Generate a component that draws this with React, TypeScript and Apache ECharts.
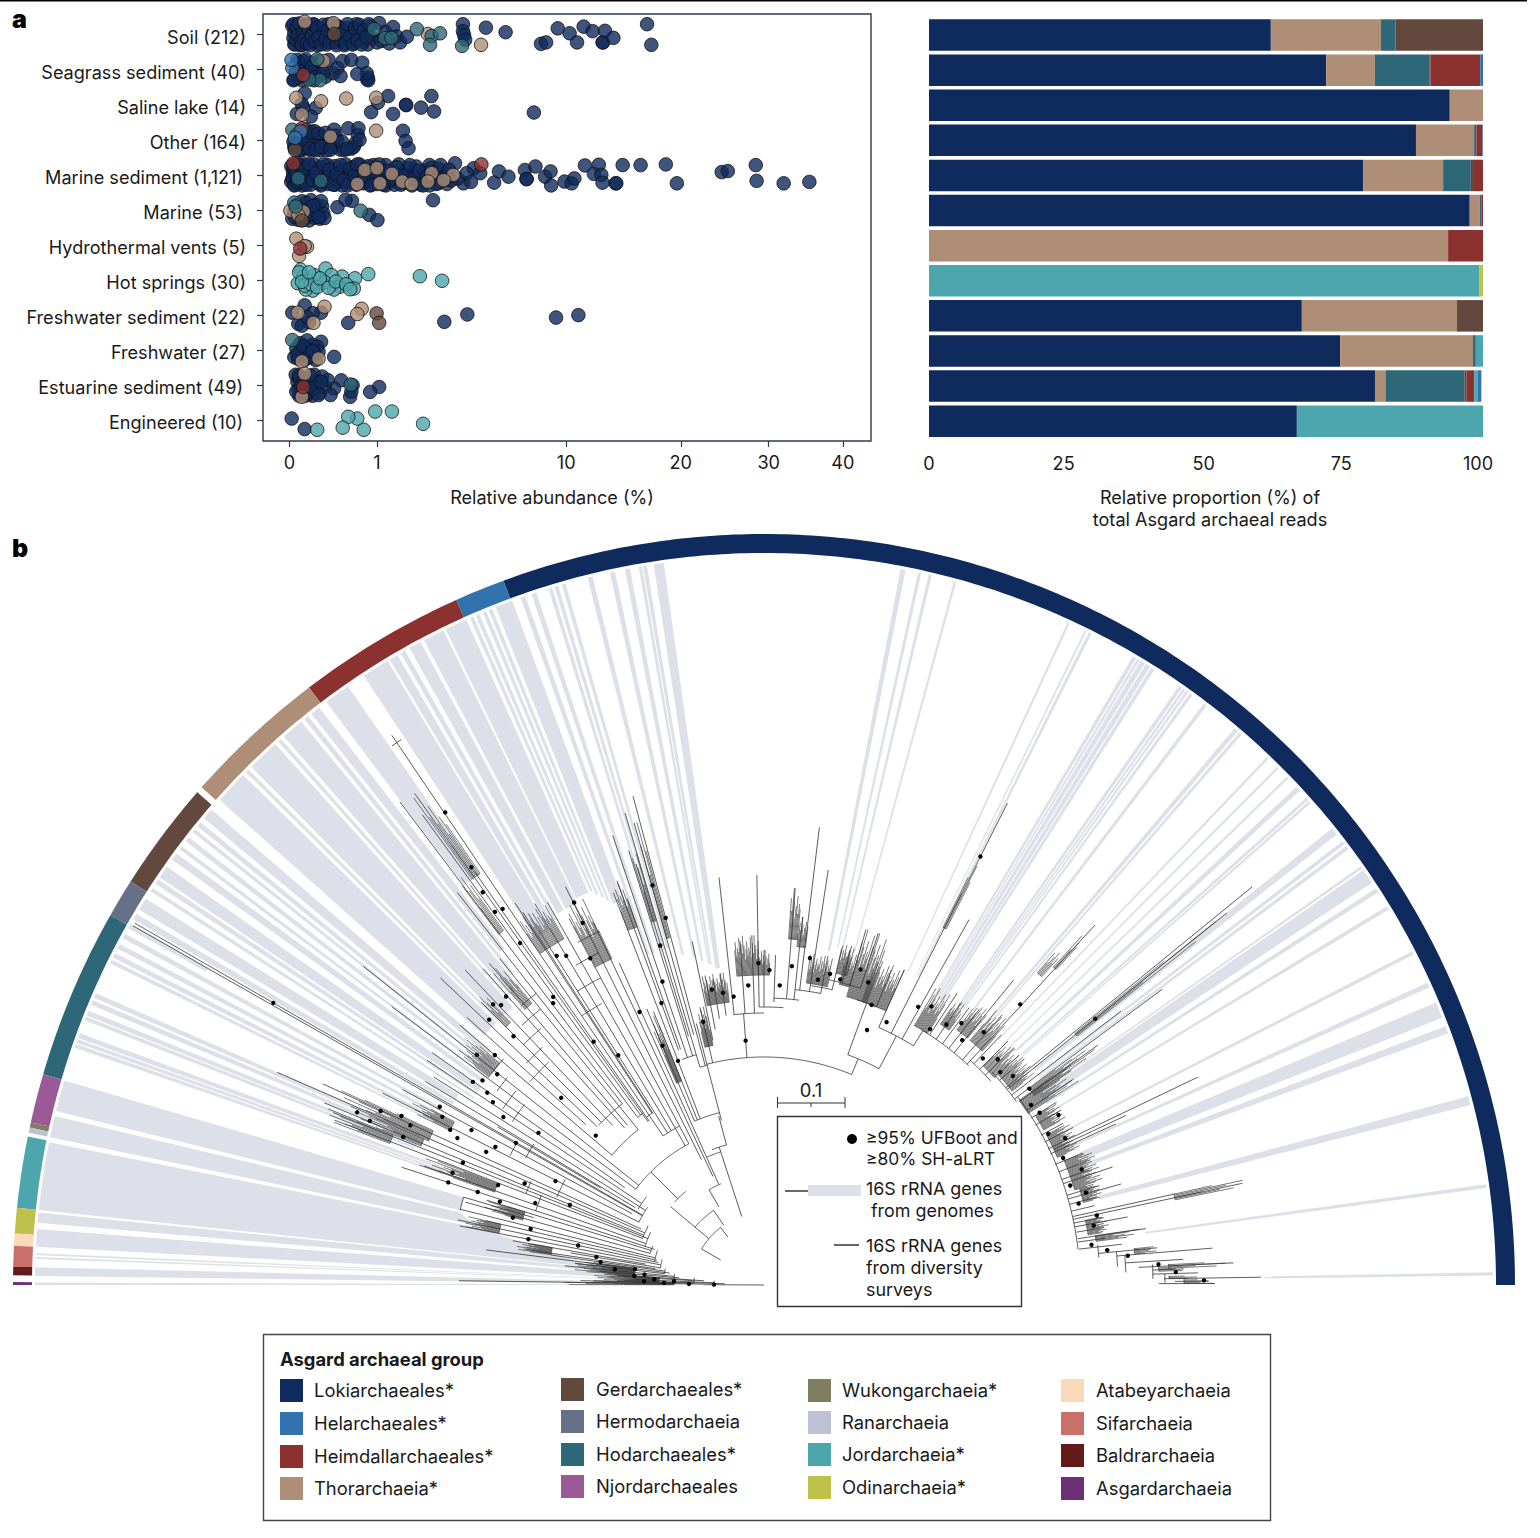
import React, { useEffect, useRef } from "react";
import * as echarts from "echarts";

const FONT = "Inter, Roboto, sans-serif";
const INK = "#1a1a1a";
const FRAME = "#2b3a55";
const AXIS_SIZE = 18.1;
const LEGEND_SIZE = 18.4;
const KEY_SIZE = 17.9;

const C: Record<string, string> = {
  Loki: "#0f2a5c", LokiOver: "#0f2a5c", Hel: "#3272ae", Heim: "#8b3230", Thor: "#ae8e77", Gerd: "#63483d", Herm: "#667189",
  Hod: "#2e6878", Njord: "#9b5997", Wukong: "#7f7f5f", Ran: "#bcc2d2", Jord: "#4da6ad", Odin: "#bfc248",
  Atabey: "#fadabb", Sif: "#cb6f6b", Bald: "#651a1a", Asgard: "#6d2f75",
};

const rowLabels = ["Soil (212)", "Seagrass sediment (40)", "Saline lake (14)", "Other (164)", "Marine sediment (1,121)", "Marine (53)", "Hydrothermal vents (5)", "Hot springs (30)", "Freshwater sediment (22)", "Freshwater (27)", "Estuarine sediment (49)", "Engineered (10)"];
const insetRows = [4, 5, 10, 11];
const abundanceTicks = [0, 1, 10, 20, 30, 40];
const proportionTicks = [0, 25, 50, 75, 100];

// Panel a, left: [relative abundance %, vertical jitter in rows]
const soilLoki = [[.001,-.25],[.002,.1],[.003,-.05],[.004,.27],[.006,-.3],[.008,.18],[.01,-.12],[.012,.05],[.015,.3],[.02,-.22],[.025,.12],[.03,-.02],[.035,.26],[.04,-.3],[.05,.08],[.06,-.15],[.07,.22],[.08,-.28],[.09,.02],[.1,.3],[.12,-.18],[.14,.15],[.16,-.05],[.18,.28],[.2,-.3],[.22,.05],[.25,-.12],[.28,.22],[.3,-.25],[.33,.1],[.36,-.02],[.39,.3],[.42,-.2],[.46,.15],[.5,-.08],[.54,.25],[.58,-.3],[.62,.05],[.66,-.15],[.7,.2],[.75,-.05],[.8,.28],[.85,-.25],[.9,.1],[1,.22],[1.05,-.33],[1.1,.18],[1.2,-.08],[1.3,.25],[1.4,-.22],[1.5,.05],[1.6,.22],[1.8,.06],[3.93,-.3],[3.93,-.1],[3.98,.01],[4.03,.15],[5.04,-.2],[6.1,-.07],[8.26,.26],[8.6,.22],[9.4,-.18],[10.25,-.04],[10.8,.22],[11.3,-.23],[12,-.1],[12.8,.22],[12.85,.22],[13,-.11],[13.7,.09],[16.7,-.3],[17.1,.29]];
const soilThor = [[.03,-.37],[.25,-.33],[2.5,-.02],[4.79,.29]];
const soilHod = [[.93,-.16],[1.19,.1],[1.36,.09],[2.12,-.16],[2.64,.04],[2.96,-.04],[2.58,.29],[3.89,.32]];
const soilGerd = [[.26,-.02]];
const soilOver = [[.002,-.3],[.003,.28],[.005,.15],[.007,-.2],[.01,.02],[.013,-.32],[.017,.2],[.02,.3],[.024,-.08],[.03,.12],[.035,-.25],[.04,.25],[.05,-.12],[.055,.3],[.065,.03],[.075,-.3],[.085,.18],[.1,-.2],[.11,.08],[.13,.28],[.15,-.28],[.17,.12],[.19,-.12],[.21,.22],[.24,-.3],[.26,.02],[.29,.3],[.32,-.2],[.35,.15],[.38,-.1],[.41,.25],[.44,-.3],[.48,.05],[.52,.28],[.56,-.18],[.6,.15],[.64,-.28],[.68,.28],[.72,-.12],[.77,.08],[.82,-.3]];

const seagrassLoki = [[.002,.3],[.005,.05],[.008,-.28],[.01,.22],[.014,-.1],[.02,.3],[.025,-.25],[.03,.12],[.04,-.05],[.05,.25],[.06,-.2],[.07,.05],[.08,.3],[.1,-.15],[.12,.15],[.14,-.02],[.17,.2],[.2,-.28],[.25,.1],[.3,-.05],[.37,-.25],[.34,.18],[.5,-.28],[.69,-.2],[.8,.22],[.79,.28],[.81,.3],[.78,.1],[.6,.12]];
const seagrassThor = [[.15,-.25]];
const seagrassHel = [[.001,-.05],[.0005,-.28]];
const seagrassHeim = [[.024,.15]];
const seagrassHod = [[.1,-.3],[.12,.3],[.05,.28]];
const seagrassOver = [[.003,.28],[.012,-.2],[.022,.05],[.035,-.3],[.045,.2],[.065,-.08],[.09,.22],[.11,-.25],[.15,.08]];

const salineLoki = [[7.8,.22],[2.63,-.25],[2.73,.19],[2.26,.08],[1.77,0],[1.78,.01],[1.4,.26],[1.27,-.25],[1.02,-.06],[.87,.21],[.09,.09],[.06,.33],[.03,-.33],[.025,.08],[.007,.26],[.02,-.02]];
const salineThor = [[.006,-.2],[.13,-.1],[.42,-.18],[.98,-.2],[.02,.28]];

const otherLoki = [[.002,.05],[.004,.25],[.006,-.15],[.01,.15],[.014,-.05],[.02,.3],[.025,.05],[.03,-.22],[.04,.2],[.05,-.1],[.06,.3],[.07,.05],[.08,-.25],[.1,.15],[.12,.3],[.14,-.1],[.16,.1],[.18,.3],[.2,-.05],[.24,.2],[.26,-.29],[.3,.02],[.34,.28],[.39,.29],[.45,-.33],[.5,.25],[.54,.2],[.57,.09],[.61,-.14],[.62,-.33],[.64,0],[1.68,-.26],[1.76,.03],[1.85,.24]];
const otherThor = [[.98,-.26],[.22,-.09]];
const otherHel = [[.016,-.24],[.004,-.06]];
const otherHeim = [[.02,-.33]];
const otherHod = [[.001,-.29]];
const otherGerd = [[.004,.29]];
const otherOver = [[.003,.2],[.008,-.1],[.012,.3],[.018,-.02],[.028,.22],[.035,-.3],[.045,.02],[.055,.25],[.065,-.22],[.09,.28],[.11,-.18],[.13,.2],[.17,-.2],[.22,.28],[.28,-.12],[.36,.05],[.43,.26]];

const sedimentLoki = [[.0004,-.25],[.0004,.2],[.0016,.05],[.0016,-.1],[.0036,.28],[.0036,-.3],[.0064,.1],[.0064,-.18],[.01,.25],[.01,-.05],[.014,.12],[.014,-.28],[.02,.3],[.02,-.12],[.026,.02],[.032,.22],[.032,-.3],[.04,-.08],[.04,.14],[.058,.28],[.058,-.2],[.078,.05],[.078,-.3],[.1,.2],[.1,-.1],[.13,.3],[.13,-.22],[.16,.02],[.16,.16],[.19,-.28],[.19,.26],[.23,-.08],[.23,.1],[.27,.28],[.27,-.25],[.31,.02],[.31,.18],[.36,-.15],[.36,.3],[.41,-.3],[.41,.1],[.46,-.05],[.46,.22],[.52,-.22],[.52,.06],[.58,.28],[.58,-.12],[.64,.12],[.64,-.3],[.71,-.02],[.71,.24],[.77,-.2],[.77,.08],[.85,.3],[.85,-.1],[.92,.15],[.92,-.28],[1,.02],[1,.26],[1.1,-.16],[1.1,.12],[1.21,.3],[1.21,-.28],[1.32,.04],[1.32,.2],[1.44,-.1],[1.44,.28],[1.56,-.3],[1.56,.1],[1.69,-.05],[1.69,.24],[1.82,-.2],[1.82,.14],[1.96,.3],[1.96,-.02],[2.1,-.24],[2.1,.18],[2.25,.06],[2.25,.28],[2.4,-.12],[2.4,.2],[2.56,.3],[2.56,-.28],[2.72,.04],[2.89,.24],[2.89,-.18],[3.06,.08],[3.24,-.04],[3.24,.26],[3.42,.16],[3.58,-.33],[3.95,.24],[4.43,-.19],[4.75,-.05],[5.47,.22],[5.73,-.1],[6.26,.05],[7.24,-.14],[7.33,.12],[7.35,.12],[7.9,-.24],[8.53,.05],[8.9,-.1],[8.94,.3],[9.88,.19],[10.4,.24],[10.6,.1],[11.4,-.27],[12.1,-.03],[12.5,-.29],[12.7,0],[12.8,.22],[13.9,.24],[13.95,.24],[14.5,-.28],[16.1,-.28],[18.5,-.3],[19.6,.24],[24.4,-.08],[25.1,-.11],[28.4,-.28],[28.5,.17],[31.9,.24],[35.3,.2]];
const sedimentThor = [[.74,-.14],[.6,.26],[1.37,-.03],[1.66,.19],[2.64,-.05],[2.5,.19],[1,-.19],[1.07,.24],[3.5,0],[1.95,.26],[3.1,.15]];
const sedimentHod = [[.13,.17],[.01,.1]];
const sedimentHeim = [[.002,-.33],[4.81,-.3]];
const sedimentOver = [[.001,.12],[.002,-.2],[.003,.3],[.005,-.05],[.008,.2],[.012,-.3],[.016,.02],[.024,.15],[.03,-.18],[.036,.28],[.05,-.3],[.07,.15],[.09,-.05],[.12,.25],[.15,-.3],[.18,.08],[.21,-.15],[.25,.28],[.29,-.02],[.34,-.28],[.38,.15],[.44,.3],[.48,-.18],[.55,.02],[.6,-.3],[.67,.2],[.74,.05],[.81,-.25],[.88,.28],[.96,-.08],[1.05,-.3],[1.15,.28],[1.26,-.12],[1.38,.12],[1.5,-.22],[1.62,.28],[1.75,.02],[1.89,-.28],[2.03,.1],[2.18,-.12],[2.33,.3],[2.48,.02],[2.64,-.2],[2.8,.26],[2.98,-.28],[3.15,.14],[3.32,-.15],[3.7,.1],[4.1,-.05],[4.3,.2]];

const marineLoki = [[.001,.25],[.003,.05],[.006,-.15],[.01,.28],[.015,.1],[.02,-.25],[.03,.18],[.04,-.05],[.05,.3],[.06,-.28],[.07,.1],[.08,.22],[.09,-.15],[.1,.05],[.12,.25],[.14,-.1],[.15,.1],[.16,.23],[.13,-.25],[2.69,-.28],[.51,-.26],[.3,-.08],[.41,-.29],[.83,.14],[1.01,.29]];
const marineHod = [[.66,.02],[.003,-.21],[.005,-.1]];
const marineThor = [[.0001,.02],[.025,.05],[.01,.15]];
const marineGerd = [[.02,.3]];
const marineOver = [[.004,.2],[.012,-.05],[.025,.28],[.035,-.2],[.055,.12],[.075,-.12],[.11,.2]];

const ventsThor = [[.006,-.18],[.04,.05],[.012,.31],[.03,.03]];
const ventsHeim = [[.015,.1]];

const springsJord = [[3.04,.02],[2.22,-.11],[.81,-.17],[.56,-.05],[.54,.24],[.36,-.1],[.33,.19],[.26,.27],[.17,-.33],[.23,-.14],[.14,.09],[.16,.05],[.07,.3],[.016,-.3],[.025,-.1],[.009,.09],[.05,0],[.035,.27],[.08,-.14],[.012,-.22],[.03,.16],[.06,.12],[.1,.2],[.12,-.05],[.2,.22],[.28,.04],[.42,.12],[.48,.26],[.02,.05],[.05,-.22]];

const fwSedLoki = [[10.9,0],[9.28,.07],[4.13,-.02],[3.13,.19],[.45,.22],[.001,-.07],[.03,-.28],[.01,.25],[.05,.2],[.13,-.07],[.07,-.06],[.02,.3],[.04,.05]];
const fwSedThor = [[.16,-.24],[.68,-.18],[.6,-.03],[.075,.22],[.009,-.07]];
const fwSedGerd = [[.99,-.05],[1.05,.22]];

const freshLoki = [[.26,.19],[.13,-.24],[.003,.2],[.006,-.05],[.01,.25],[.015,-.2],[.02,.08],[.03,.28],[.04,-.28],[.05,-.02],[.06,.2],[.07,-.15],[.08,.05],[.09,.28],[.1,-.1],[.11,.05],[.04,.1]];
const freshThor = [[.11,.24],[.02,.32]];
const freshHod = [[.001,-.29]];
const freshOver = [[.008,.12],[.025,-.12],[.045,.2],[.07,.02]];

const estuaryLoki = [[1.05,.05],[.85,.19],[.48,.33],[.52,0],[.35,-.14],[.26,.09],[.005,-.3],[.008,-.1],[.01,.12],[.012,.3],[.015,-.25],[.02,.05],[.03,.3],[.04,-.2],[.05,.18],[.06,-.05],[.07,.3],[.08,-.3],[.09,.1],[.1,-.12],[.12,.22],[.14,-.25],[.16,.05],[.19,-.15],[.22,.28],[.012,-.18],[.04,.28],[.5,.18]];
const estuaryThor = [[.03,-.33],[.02,.33]];
const estuaryHeim = [[.025,.05]];
const estuaryHod = [[.49,-.02]];
const estuaryOver = [[.006,.18],[.011,-.28],[.018,.02],[.028,-.12],[.038,.22],[.055,-.28],[.075,.08],[.11,.28],[.13,-.1]];

const engineeredJord = [[2.33,.1],[1.37,-.25],[.96,-.25],[.72,.27],[.6,-.05],[.45,-.1],[.37,.21],[.1,.27]];
const engineeredLoki = [[.0006,-.05],[.03,.25]];

const rowsOf: Record<string, [number, number[][]][]> = {
  Loki: [[0, soilLoki], [1, seagrassLoki], [2, salineLoki], [3, otherLoki], [4, sedimentLoki], [5, marineLoki], [8, fwSedLoki], [9, freshLoki], [10, estuaryLoki], [11, engineeredLoki]],
  LokiOver: [[0, soilOver], [1, seagrassOver], [3, otherOver], [4, sedimentOver], [5, marineOver], [9, freshOver], [10, estuaryOver]],
  Thor: [[0, soilThor], [1, seagrassThor], [2, salineThor], [3, otherThor], [4, sedimentThor], [5, marineThor], [6, ventsThor], [8, fwSedThor], [9, freshThor], [10, estuaryThor]],
  Gerd: [[0, soilGerd], [3, otherGerd], [5, marineGerd], [8, fwSedGerd]],
  Hod: [[0, soilHod], [1, seagrassHod], [3, otherHod], [4, sedimentHod], [5, marineHod], [9, freshHod], [10, estuaryHod]],
  Heim: [[1, seagrassHeim], [3, otherHeim], [4, sedimentHeim], [6, ventsHeim], [10, estuaryHeim]],
  Jord: [[7, springsJord], [11, engineeredJord]],
  Hel: [[1, seagrassHel], [3, otherHel]],
};

// Panel a, right: relative proportion per environment
const barLoki = [61.7, 71.7, 94, 87.9, 78.4, 97.6, 0, 0, 67.3, 74.2, 80.5, 66.4];
const barThor = [19.9, 8.8, 6, 10.5, 14.4, 1.8, 93.7, 0, 28, 24, 1.9, 0];
const barHod = [2.6, 9.8, 0, .4, 5, .3, 0, 0, 0, .5, 14.3, 0];
const barGerd = [15.8, .2, 0, 0, .4, 0, 0, 0, 4.7, 0, .3, 0];
const barHeim = [0, 9, 0, 1.1, 1.8, .3, 6.3, 0, 0, 0, 1.4, 0];
const barJord = [0, 0, 0, 0, 0, 0, 0, 99.3, 0, 1.3, .6, 33.6];
const barOdin = [0, 0, 0, 0, 0, 0, 0, .7, 0, 0, 0, 0];
const barHel = [0, .5, 0, .1, 0, 0, 0, 0, 0, 0, .7, 0];
const barSeries: [string, number[]][] = [["Loki", barLoki], ["Thor", barThor], ["Hod", barHod], ["Gerd", barGerd], ["Heim", barHeim], ["Jord", barJord], ["Odin", barOdin], ["Hel", barHel]];

// Panel b. Polar data: angle in degrees, r in tree-layout units (67.5 units = 0.1 subst./site)
const ringGroups: [string, number, number][] = [["Loki", 0, 110.3], ["Hel", 110.3, 114.2], ["Heim", 114.2, 127.3], ["Thor", 127.3, 138.5], ["Gerd", 139, 147.5], ["Herm", 147.5, 150.5], ["Hod", 150.5, 163.7], ["Njord", 163.7, 167.5], ["Wukong", 167.5, 167.9], ["Ran", 167.9, 168.3], ["Jord", 168.6, 174.1], ["Odin", 174.1, 176.07], ["Atabey", 176.07, 177], ["Sif", 177, 178.6], ["Bald", 178.6, 179.25], ["Asgard", 179.78, 180]];

// genome 16S bands: [angle from, angle to, inner r at "from", inner r at "to" (if it differs)]
const genomeBands: number[][] = [[.75,1,500],[7.65,7.95,385],[14.3,15,346],[20.2,20.8,339],[21.5,22.8,342],[24.1,24.5,330],[26.95,27.25,340],[31,31.3,335],[32.6,32.95,335],[33.5,34.7,335],[34.85,35.05,335],[36.7,37,345],[37.2,37.5,345],[38.2,38.8,345],[41.4,41.6,345],[41.7,41.95,345],[42.7,43.1,345],[44,44.2,340],[45.1,45.3,340],[46.2,46.4,340],[49.05,49.3,340],[49.45,49.8,340],[52.6,52.9,345],[54,54.25,340],[54.4,54.6,340],[54.7,54.9,340],[55,55.3,340],[57.6,57.9,335],[58,58.4,335],[58.5,58.9,335],[59,59.2,335],[59.3,59.6,335],[63.3,63.55,345],[63.75,63.9,345],[65.2,65.4,345],[74.7,74.9,345],[76.7,76.95,345],[77.55,77.8,345],[78.8,79.2,340],[97.9,98.7,320],[99.25,99.55,325],[99.65,99.9,325],[100.6,101,330],[101.8,102.2,335],[103.6,104,340],[105.8,106.1,350],[106.4,106.7,350],[106.9,107.2,350],[108.2,108.6,350],[109.1,109.5,350],[110.2,111.6,410],[111.9,112.2,415],[112.4,112.7,420],[113,113.3,425],[113.5,113.8,430],[114.1,115.9,430],[116.1,117.8,425],[118.1,119.1,425],[119.5,119.9,420],[120.2,120.9,420],[121.1,123.3,415],[124.8,126.9,500],[127.6,128.4,425],[128.7,129.1,400],[129.4,131.2,385],[131.5,131.8,380],[132.1,134.7,375],[135,135.3,375],[135.6,138.3,375],[139.3,140.2,360],[140.6,141,350],[141.3,141.6,345],[142.1,142.5,345],[143,143.3,345],[143.7,144.3,345],[145,146,345],[146.2,146.6,345],[147,147.3,345],[148,149,360],[149.4,149.9,360],[150.3,150.7,640],[151.2,151.6,365],[152.1,152.5,365],[152.9,153.3,365],[153.5,153.8,365],[156.4,156.8,375],[157,157.4,375],[157.9,158.3,375],[158.4,158.7,375],[159.8,160.2,340],[160.3,160.6,340],[160.7,161,340],[163.7,166.2,313],[166.6,168.3,312,295],[168.7,174.1,290,168],[174.3,175.1,165],[175.6,177,145],[177.5,177.65,130],[177.8,177.95,130],[178.6,179.3,115],[179.8,180,135]];

// dense leaf clusters: [angle from, angle to, r from, r to]
const leafTufts = [[.2,.8,420,450],[.9,1.3,405,440],[2.4,3,405,465],[4.8,5.7,372,395],[2,2.6,395,420],[8.8,11.5,328,350],[7.5,8.5,335,380],[14.5,17,330,350],[11.7,12.6,420,490],[17,22.5,325,355],[23.5,28,320,345],[29,32,320,345],[33,36,315,375],[35,36.5,330,410],[38.5,39,400,590],[38,42,315,345],[42,45,310,345],[47.2,47.8,430,480],[48,48.8,415,450],[47,50,320,360],[50.5,53,320,355],[54,56,315,345],[57,60,300,345],[62.9,63.4,400,470],[66,71,300,345],[70,74,300,370],[74,76,310,345],[78,82,305,335],[75,77,320,350],[84.5,86,347,398],[83,84.5,340,370],[89,91,310,335],[91,95,310,350],[97,101.5,285,315],[102,104,245,285],[105.2,105.8,360,480],[106.5,107.2,380,450],[109.5,111,380,430],[112,113.5,220,295],[115,118,360,430],[120,124,400,440],[124.6,125.8,500,600],[126.3,127.2,440,520],[129.5,131,365,415],[134,135,365,405],[140,143,345,385],[155,156.8,365,465],[156.8,158,370,440],[158,159.3,400,470],[152.2,153.8,350,398],[159.2,161,285,365],[163,165,250,290],[167,169,270,305],[170,172,215,250],[172.5,176,130,190],[176,178.5,105,170],[178.6,179.9,90,200]];
const hairPattern = [1, .55, .8, .45, .95, .6, .7, .5, .85, .65, .4, .75];

// radial branches: [angle, r from, r to]
const radialBranches = [[.2,395,451],[.5,411,445],[.9,400,497],[1.6,389,434],[2.7,375,470],[2.2,389,420],[3.5,362,420],[4.7,354,450],[5.4,336,395],[6.5,317,360],[7.8,317,345],[8.4,317,386],[9.6,317,345],[10.6,316,370],[11.3,316,345],[12,316,489],[12.5,316,420],[13.5,316,340],[15.8,316,371],[14.8,316,345],[16.5,316,350],[18.7,316,368],[19.5,316,345],[21,316,350],[22.5,315,345],[24.6,315,387],[25.6,315,481],[25.1,320,400],[27,315,347],[28.4,315,340],[30.5,315,345],[32,315,345],[33.6,315,370],[35.7,315,411],[36.6,312,496],[37.5,312,450],[38.8,312,594],[39.2,312,630],[41,312,345],[43.5,305,345],[45,305,345],[46.5,305,345],[47.4,300,489],[48.6,300,360],[50.7,300,394],[52,300,350],[53.5,300,345],[55,300,345],[56.5,300,350],[58,282,300],[60.7,282,419],[62,245,282],[63.2,282,540],[66,282,345],[67.4,228,245],[70,245,300],[68,300,340],[72,312,370],[74,312,370],[75.5,312,350],[77,303,345],[79,297,335],[81.2,297,420],[83.1,297,461],[84,287,370],[85.5,287,398],[88,283,330],[90,278,335],[91,278,410],[92,272,350],[94,272,345],[94.3,228,272],[96.3,272,410],[98,272,315],[99.5,270,310],[100.8,260,315],[101.8,250,351],[103,228,285],[104.5,170,270],[105,227,506],[106.4,227,492],[105.7,260,480],[106.9,260,440],[107.3,240,455],[108.6,240,474],[109.5,250,410],[110,250,430],[111,178,420],[112,178,295],[113,178,300],[108,72,145],[105,145,175],[114.2,110,353],[115.2,120,400],[116.5,140,445],[118,160,415],[119.5,160,440],[121,180,445],[122.4,180,440],[123.1,205,456],[122.9,205,444],[124.1,180,664],[125,200,505],[125.4,200,603],[126,210,581],[127,210,605],[128,230,498],[129,200,420],[130.5,210,423],[131.6,210,423],[133.5,220,434],[135,230,400],[136.5,230,446],[138,240,400],[139.5,200,400],[141.5,160,512],[143.2,160,465],[145,170,405],[146.3,147,405],[147.8,140,390],[149,150,395],[149.3,190,310],[150.1,140,726],[150.35,140,726],[151.6,150,411],[153.3,140,427],[155.5,135,485],[156.4,130,531],[157.5,130,476],[158.2,125,464],[159,130,460],[160.7,125,360],[162,115,381],[163,118,290],[163.7,240,313],[164.5,118,310],[166,112,313],[167,110,285],[168,108,313],[169,105,310],[170,120,255],[170.6,105,196],[171.5,110,240],[172,100,215],[172.8,95,280],[173.5,100,190],[174.5,90,200],[175.2,85,165],[176,60,150],[176.5,70,145],[177.5,50,130],[178.6,70,170],[179.2,60,305],[178.2,40,140],[179.7,0,60],[127,60,72],[150,50,72],[124,72,90],[140,72,122],[120,90,110],[135,122,160]];

// connecting arcs: [r, angle from, angle to]
const connectArcs = [[228,67.4,104.5],[245,62,70],[282,58,66],[300,47,58],[305,42,47.6],[312,36,43],[316,6.5,36.5],[336,4.7,6.8],[354,3,5.4],[362,2,4.7],[389,.9,3],[401,.3,1.6],[272,90,96.5],[278,86,91],[287,83,88],[297,79,84],[303,77,81],[312,72,78],[300,68,72],[227,104.5,106.4],[240,106.4,110],[178,104.5,113],[145,105,111],[140,108,114.2],[180,118,124.1],[205,122.9,125],[210,125,127],[230,128,136],[200,129,139.5],[160,118,143.2],[147,143,149],[140,146.3,153.3],[130,153,159],[125,155,162],[118,160.7,164.5],[112,162,168],[105,166,171],[100,170.6,173.5],[90,172.8,176],[70,174,178.6],[50,175,178.2],[40,177.5,179.7],[72,127,150],[90,124,140],[122,130,137],[110,113,120],[655,123.6,124.6],[390,115,118.5],[371,116.5,120.5],[348,118,122.5],[325,120,124],[370,128,131],[355,129,133],[340,131,135],[325,133,137],[310,134,139],[345,139,142],[330,141,144],[315,142,146],[300,143,147],[313,163.7,166.2],[285,150,153],[270,148.5,152],[255,156,159],[240,158,162],[225,152,157]];

const supportNodes = [[.6,440],[1.8,412],[3,395],[4.6,365],[5.8,345],[7,330],[9,322],[10.2,335],[11.8,340],[14.5,325],[16,335],[18,322],[20,338],[23,325],[26,335],[28,322],[30,340],[32,325],[34,322],[36.5,330],[38.8,425],[40,325],[42,318],[44,325],[46,315],[47.6,380],[49,335],[51,315],[53,328],[55,318],[57,305],[59,325],[61,318],[63.2,480],[65,290],[68,275],[69,300],[71,320],[73,330],[76,315],[78,318],[80,310],[82,330],[85,320],[87,300],[89,315],[91,322],[93,300],[94.3,245],[96,290],[98,295],[100,300],[103,270],[105,380],[105.6,415],[107,355],[108.5,320],[110,300],[111,240],[113,260],[114.5,300],[116.6,405],[116.4,427],[118,370],[121,384],[122.2,389],[122.4,272],[125,297],[124,570],[125,510],[125.6,483],[125.8,460],[124.8,458],[125.5,420],[126.2,357],[126.8,352],[131.8,387],[134,390],[133.2,384],[135.2,353],[136,382],[139.5,354],[141.3,368],[141.7,340],[144,348],[145.1,355],[145.2,337],[146,327],[147.2,310],[138.4,225],[137.3,276],[146,272],[150.1,566],[150.2,286],[151.2,370],[152.4,363],[153.7,350],[154.4,340],[152.1,331],[154.4,308],[152.8,302],[155.6,421],[157.4,427],[157,442],[155,400],[155.7,388],[157.7,390],[157.9,325],[160.2,331],[162,332],[162,301],[159.4,284],[157,260],[153.5,233],[157.6,210],[160.3,243],[162.5,277],[165,260],[166.5,240],[168,190],[169,240],[170.5,170],[172,165],[173,130],[174,150],[175,120],[176,130],[177,110],[177.6,90],[178.2,120],[178.8,100],[179.2,75],[179.5,50]];

const legendGroups: [string, string, number, number, number][] = [
  ["Lokiarchaeales*", "Loki", 280, 1379, 314], ["Helarchaeales*", "Hel", 280, 1412, 314], ["Heimdallarchaeales*", "Heim", 280, 1445, 314], ["Thorarchaeia*", "Thor", 280, 1477, 314],
  ["Gerdarchaeales*", "Gerd", 561, 1378, 596], ["Hermodarchaeia", "Herm", 561, 1410, 596], ["Hodarchaeales*", "Hod", 561, 1443, 596], ["Njordarchaeales", "Njord", 561, 1475, 596],
  ["Wukongarchaeia*", "Wukong", 808, 1379, 842], ["Ranarchaeia", "Ran", 808, 1411, 842], ["Jordarchaeia*", "Jord", 808, 1443, 842], ["Odinarchaeia*", "Odin", 808, 1476, 842],
  ["Atabeyarchaeia", "Atabey", 1061, 1379, 1096], ["Sifarchaeia", "Sif", 1061, 1412, 1096], ["Baldrarchaeia", "Bald", 1061, 1444, 1096], ["Asgardarchaeia", "Asgard", 1061, 1477, 1096],
];

const silent = { silent: true, animation: false };
const arcPoints = (api: any, r: number, a0: number, a1: number) => {
  const n = Math.max(1, Math.ceil(Math.abs(a1 - a0) / 0.5));
  const pts: number[][] = [];
  for (let i = 0; i <= n; i++) pts.push(api.coord([r, a0 + ((a1 - a0) * i) / n]).slice(0, 2));
  return pts;
};
const sectorPoints = (api: any, r0: number, r1: number, a0: number, a1: number) => [...arcPoints(api, r1, a0, a1), ...arcPoints(api, r0, a1, a0)];
const polarSeries = (name: string, data: any[], z: number, renderItem: any) => ({ ...silent, type: "custom", name, coordinateSystem: "polar", data, z, renderItem, encode: { radius: 0, angle: 1 } });
const branchStyle = { stroke: "#333", lineWidth: 0.8, fill: "none" };
const hairStyle = { stroke: "#4c4c4c", lineWidth: 0.75, fill: "none" };
const renderBand = (_: any, api: any) => {
  const [a0, a1, rA, rB] = genomeBands[_.dataIndex];
  const inner = [api.coord([rB ?? rA, a1]).slice(0, 2), api.coord([rA, a0]).slice(0, 2)];
  return { type: "polygon", shape: { points: [...arcPoints(api, 729, a0, a1), ...inner] }, style: { fill: "#dde0e8" } };
};
const renderTuft = (_: any, api: any) => {
  const [a0, a1, r0, r1] = [api.value(0), api.value(1), api.value(2), api.value(3)];
  const children: any[] = [{ type: "polyline", shape: { points: arcPoints(api, r0, a0, a1) }, style: hairStyle }];
  let k = _.dataIndex;
  for (let a = a0; a <= a1; a += 0.16) {
    const end = r0 + (r1 - r0) * hairPattern[k++ % hairPattern.length];
    children.push({ type: "polyline", shape: { points: [api.coord([r0, a]).slice(0, 2), api.coord([end, a]).slice(0, 2)] }, style: hairStyle });
  }
  return { type: "group", children };
};

const text = (t: string, x: number, y: number, o: any = {}) => ({
  type: "text", x, y, z: 50, silent: true,
  style: { text: t, fontFamily: FONT, fontSize: LEGEND_SIZE, fill: INK, textAlign: "left", textVerticalAlign: "middle", ...o },
});
const key = (t: string, x: number, y: number, o: any = {}) => text(t, x, y, { fontSize: KEY_SIZE, ...o });
const line = (x1: number, y1: number, x2: number, y2: number, lineWidth = 1, stroke = INK) => ({ type: "line", z: 50, silent: true, shape: { x1, y1, x2, y2 }, style: { stroke, lineWidth } });
const rect = (x: number, y: number, width: number, height: number, style: any) => ({ type: "rect", z: 49, silent: true, shape: { x, y, width, height }, style });

function buildOption() {
  const scatter = Object.keys(rowsOf).map((g) => ({
    ...silent, type: "scatter", name: g, xAxisIndex: 0, yAxisIndex: 0, symbolSize: 13.5, z: 3,
    data: rowsOf[g].flatMap(([row, pts]) => pts.map(([v, j]) => [Math.sqrt(v), row + j])),
    itemStyle: { color: C[g], opacity: 0.8, borderColor: "#111", borderWidth: 1 },
  }));
  const bars = barSeries.map(([g, d]) => ({ ...silent, type: "bar", name: g, stack: "share", xAxisIndex: 1, yAxisIndex: 1, barWidth: 31.5, data: d, itemStyle: { color: C[g] } }));
  const tree = [
    polarSeries("16S genomes", genomeBands.map((b) => b.slice(0, 3)), 2, renderBand),
    polarSeries("groups", ringGroups.map(([g, a, b]) => [a, b, g]), 3, (_: any, api: any) => ({ type: "polygon", shape: { points: sectorPoints(api, 732, 751, api.value(0), api.value(1)) }, style: { fill: C[ringGroups[_.dataIndex][0]] } })),
    polarSeries("tufts", leafTufts, 4, renderTuft),
    polarSeries("radial", radialBranches, 5, (_: any, api: any) => ({ type: "polyline", shape: { points: [api.coord([api.value(1), api.value(0)]).slice(0, 2), api.coord([api.value(2), api.value(0)]).slice(0, 2)] }, style: branchStyle })),
    polarSeries("arcs", connectArcs, 5, (_: any, api: any) => ({ type: "polyline", shape: { points: arcPoints(api, api.value(0), api.value(1), api.value(2)) }, style: branchStyle })),
    polarSeries("nodes", supportNodes, 6, (_: any, api: any) => { const p = api.coord([api.value(1), api.value(0)]); return { type: "circle", shape: { cx: p[0], cy: p[1], r: 2.2 }, style: { fill: "#000" } }; }),
  ];
  const graphic = [
    line(0, 0.5, 1527, 0.5, 2, "#000"),
    text("a", 12, 19, { fontSize: 25, fontWeight: 900, fill: "#000" }),
    text("b", 12, 548, { fontSize: 25, fontWeight: 900, fill: "#000" }),
    text("Relative abundance (%)", 552, 497, { textAlign: "center", fontSize: AXIS_SIZE }),
    text("Relative proportion (%) of", 1210, 497, { textAlign: "center", fontSize: AXIS_SIZE }),
    text("total Asgard archaeal reads", 1210, 519, { textAlign: "center", fontSize: AXIS_SIZE }),
    line(777.5, 1103, 845, 1103, 1, "#333"), line(777.5, 1097, 777.5, 1108, 1, "#333"), line(845, 1097, 845, 1108, 1, "#333"), line(811, 1103, 811, 1107, 1, "#333"),
    text("0.1", 811, 1090, { textAlign: "center" }),
    rect(777.5, 1116.5, 244, 190, { fill: "#fff", stroke: "#333", lineWidth: 1.4 }),
    { type: "circle", z: 50, silent: true, shape: { cx: 852, cy: 1139, r: 5 }, style: { fill: "#000" } },
    key("≥95% UFBoot and", 866, 1137, { fontSize: 17.4 }), key("≥80% SH-aLRT", 866, 1158, { fontSize: 17.4 }),
    line(785, 1191, 808, 1191, 1.2, "#000"), rect(808, 1185, 53, 11, { fill: "#dde0e8" }),
    key("16S rRNA genes", 866, 1188), key("from genomes", 871, 1210),
    line(834, 1245, 859, 1245, 1.2, "#000"),
    key("16S rRNA genes", 866, 1245), key("from diversity", 866, 1267), key("surveys", 866, 1289),
    rect(263.5, 1334.5, 1007, 186, { fill: "#fff", stroke: "#444", lineWidth: 1.4 }),
    text("Asgard archaeal group", 280, 1358.5, { fontWeight: 700 }),
    ...legendGroups.flatMap(([label, g, sx, sy, tx]) => [rect(sx, sy, 23, 23, { fill: C[g] }), text(label, tx, sy + 10.5)]),
  ];
  return {
    animation: false,
    backgroundColor: "#fff",
    textStyle: { fontFamily: FONT },
    grid: [
      { left: 263, top: 14, width: 608, height: 427, show: true, borderColor: FRAME, borderWidth: 1.4, backgroundColor: "#fff" },
      { left: 929, top: 17.5, width: 554, height: 421.2 },
    ],
    polar: { center: [764, 1285], radius: 751 },
    angleAxis: { type: "value", min: 0, max: 360, startAngle: 0, clockwise: false, show: false },
    radiusAxis: { type: "value", min: 0, max: 751, show: false },
    xAxis: [
      {
        type: "value", gridIndex: 0, min: -0.303, max: 6.646, splitLine: { show: false }, axisLine: { show: false, onZero: false },
        axisTick: { show: true, length: 6, customValues: abundanceTicks.map(Math.sqrt), lineStyle: { color: FRAME, width: 1.2 } },
        axisLabel: { customValues: abundanceTicks.map(Math.sqrt), margin: 12, fontSize: AXIS_SIZE, color: INK, fontFamily: FONT, formatter: (v: number) => String(Math.round(v * v)) },
      },
      {
        type: "value", gridIndex: 1, min: 0, max: 100, splitLine: { show: false }, axisLine: { show: false, onZero: false }, axisTick: { show: false },
        axisLabel: { customValues: [0, 24.3, 49.6, 74.4, 99.1], margin: 15, fontSize: AXIS_SIZE, color: INK, fontFamily: FONT, formatter: (v: number) => String(proportionTicks[Math.round(v / 25)]) },
      },
    ],
    yAxis: [
      {
        type: "value", gridIndex: 0, inverse: true, min: -0.59, max: 11.59, splitLine: { show: false }, axisLine: { show: false, onZero: false },
        axisTick: { show: true, length: 6, customValues: rowLabels.map((_, i) => i), lineStyle: { color: FRAME, width: 1.2 } },
        axisLabel: {
          customValues: rowLabels.map((_, i) => i), margin: 17, fontSize: AXIS_SIZE, color: INK, fontFamily: FONT, padding: [4, 0, 0, 0],
          formatter: (v: number) => (insetRows.includes(v) ? `{inset|${rowLabels[v]}}` : rowLabels[v]),
          rich: { inset: { padding: [0, 3, 0, 0], fontSize: AXIS_SIZE, fontFamily: FONT, color: INK } },
        },
      },
      { type: "category", gridIndex: 1, inverse: true, data: rowLabels, show: false },
    ],
    series: [...scatter, ...bars, ...tree],
    graphic,
  };
}

export default function App() {
  const ref = useRef<HTMLDivElement>(null);
  useEffect(() => {
    const chart = echarts.init(ref.current!, null, { renderer: "svg" });
    chart.setOption(buildOption() as any);
    return () => chart.dispose();
  }, []);
  return <div ref={ref} style={{ position: "absolute", left: 0, top: 0, width: 1540, height: 1538 }} />;
}
